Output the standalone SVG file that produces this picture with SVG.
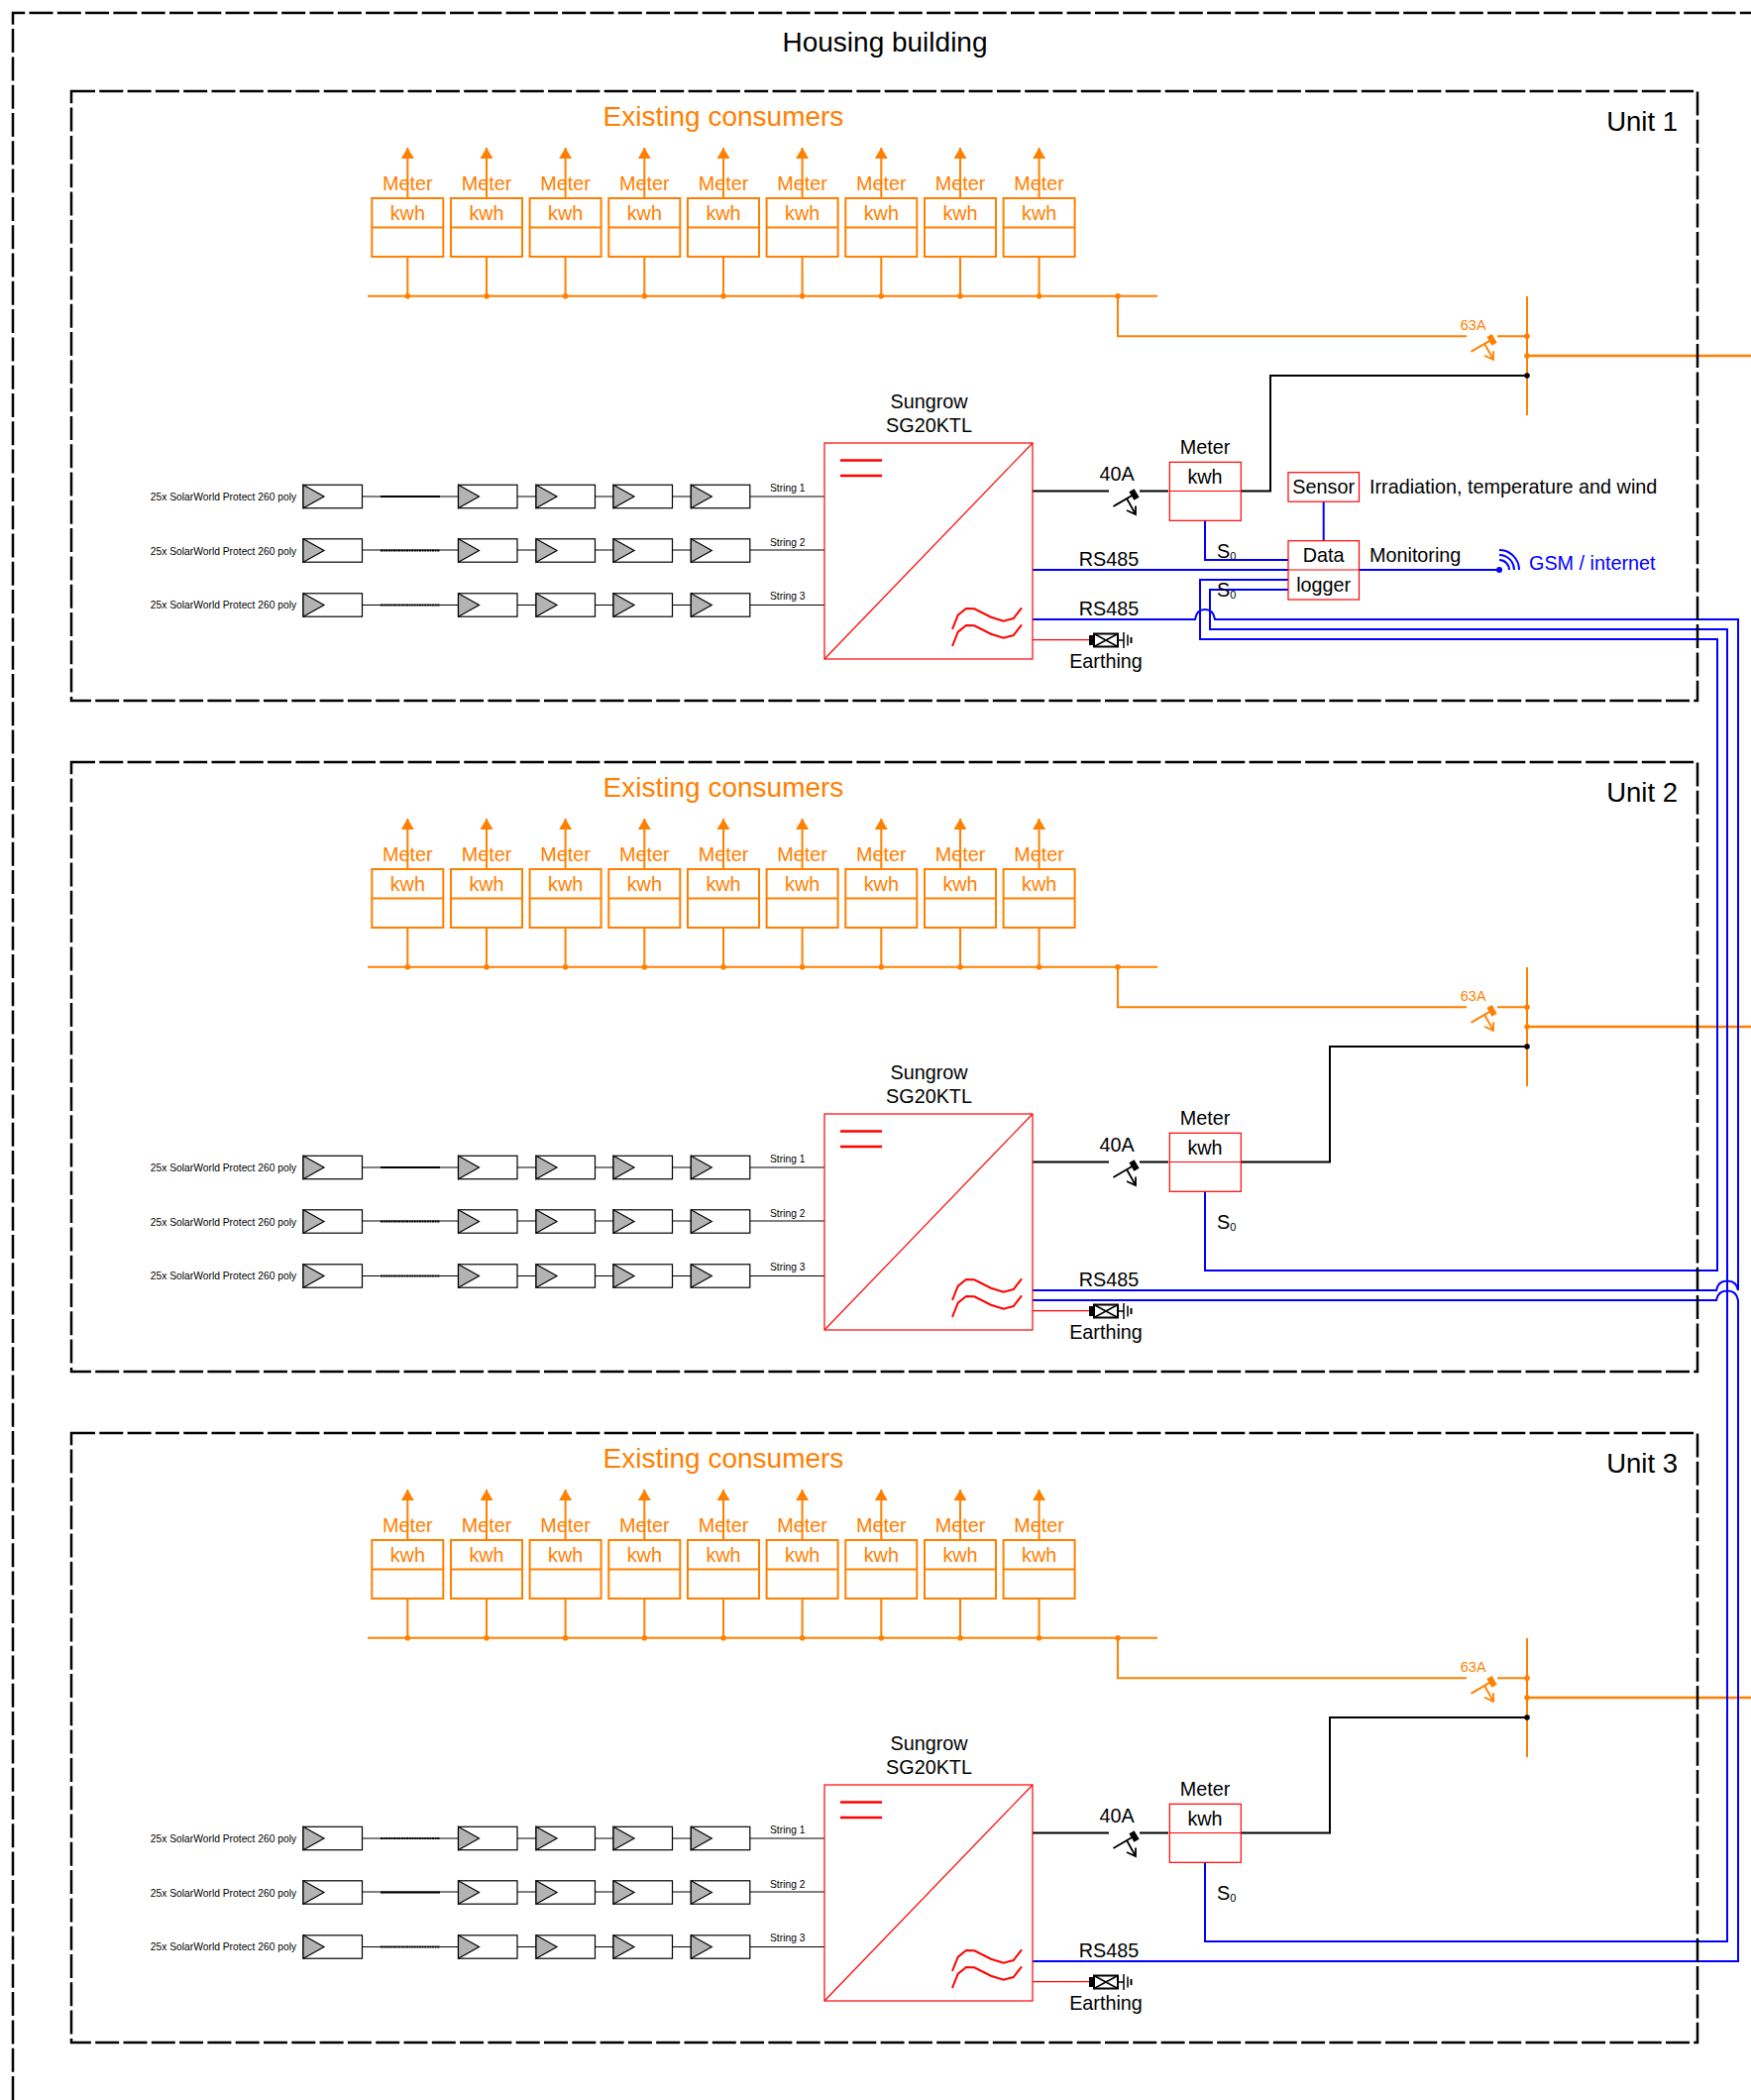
<svg xmlns="http://www.w3.org/2000/svg" width="1767" height="2119" viewBox="0 0 1767 2119">
<style>
text{font-family:"Liberation Sans",Arial,sans-serif;fill:#000;font-size:19.800px}
.c{text-anchor:middle}
.o{fill:#ff8000}
.b{fill:#0000ff}
.big{font-size:28px}
.un{font-size:27.500px;text-anchor:end}
.sm{font-size:10.300px}
.a63{font-size:14.500px;fill:#ff8000;text-anchor:middle}
.sub{font-size:11px}
.dash{fill:none;stroke:#000;stroke-width:2.500;stroke-dasharray:24 4.300}
.lo{fill:none;stroke:#ff8000;stroke-width:2}
.lk{fill:none;stroke:#000;stroke-width:2}
.lb{fill:none;stroke:#0000ff;stroke-width:2}
.lr{fill:none;stroke:#ff0000;stroke-width:1.200}
.w1{fill:none;stroke:#000;stroke-width:1}
.dot{fill:none;stroke:#000;stroke-width:2;stroke-dasharray:2 .6}
.sol{fill:none;stroke:#000;stroke-width:2}
.box{fill:#fff;stroke:#ff0000;stroke-width:1.200}
.open{fill:none;stroke:#ff0000;stroke-width:1.200}
</style>
<defs>
<g id="mb">
<rect x="-36" y="0" width="72" height="59" fill="#fff" stroke="#ff8000" stroke-width="2"/>
<path d="M-36 29.500H36" stroke="#ff8000" stroke-width="2"/>
</g>
<g id="mod">
<rect x="0" y="-11.700" width="59.500" height="23.400" fill="#fff" stroke="#000" stroke-width="1.200"/>
<path d="M0 -11.700L21 0L0 11.700Z" fill="#b3b3b3" stroke="#000" stroke-width="1.200"/>
</g>
<g id="strip">
<use href="#mod" x="306"/><use href="#mod" x="462.500"/><use href="#mod" x="541"/><use href="#mod" x="619"/><use href="#mod" x="697.300"/>
</g>
<g id="wires">
<path class="w1" d="M365.500 0H462.500M522 0H541M600.500 0H619M678.500 0H697.300M756.800 0H832"/>
</g>
<g id="sw" fill="none" stroke="currentColor" stroke-width="2">
<path d="M4.500 15.500L25 3.500M31 0H60"/>
<rect x="-3" y="-5" width="6" height="10" transform="translate(25.500 3.500) rotate(-30)" fill="currentColor" stroke="none"/>
<path d="M18 7.500L27 23.500M18 19.500L27 23.500L27 15" stroke-width="1.800"/>
</g>
<g id="earth">
<rect x="1099" y="641" width="4.500" height="10" fill="#000"/>
<rect x="1104" y="639.500" width="24" height="13" fill="#fff" stroke="#000" stroke-width="2"/>
<path d="M1104 639.500L1128 652.500M1104 652.500L1128 639.500M1128 646H1134" fill="none" stroke="#000" stroke-width="1.500"/>
<path d="M1134 638V654M1138 640.500V651.500" fill="none" stroke="#000" stroke-width="1.500"/>
<path d="M1141.500 643V649" fill="none" stroke="#000" stroke-width="2"/>
</g>
<g id="inv">
<rect x="832" y="447" width="210" height="218" class="box"/>
<path d="M832 665L1042 447" class="lr"/>
<path d="M848 464.500H890M848 480H890" fill="none" stroke="#ff0000" stroke-width="2.500"/>
<path d="M961 635L966.700 620.700L975 614L983.300 614.300L1000 622.700L1012.700 626.700L1022.700 624L1031 613.300M961 652L966.700 637.700L975 631L983.300 631.300L1000 639.700L1012.700 643.700L1022.700 641L1031 630.300" fill="none" stroke="#ff0000" stroke-width="2"/>
</g>
<g id="obus">
<path class="lo" d="M411.300 149V200M491 149V200M570.600 149V200M650.300 149V200M730 149V200M809.600 149V200M889.300 149V200M969 149V200M1048.600 149V200"/>
<path class="lo" d="M411.300 259V298.700M491 259V298.700M570.600 259V298.700M650.300 259V298.700M730 259V298.700M809.600 259V298.700M889.300 259V298.700M969 259V298.700M1048.600 259V298.700M371 298.700H1168M1128 298.700V339.300H1480M1541 299V419"/>
<path d="M1541 359H1767" fill="none" stroke="#ff8000" stroke-width="2.500"/>
<g fill="#ff8000"><path d="M411.300 149l-6.500 11h13zM491 149l-6.500 11h13zM570.600 149l-6.500 11h13zM650.300 149l-6.500 11h13zM730 149l-6.500 11h13zM809.600 149l-6.500 11h13zM889.300 149l-6.500 11h13zM969 149l-6.500 11h13zM1048.600 149l-6.500 11h13z"/>
<circle cx="411.300" cy="298.700" r="2.800"/><circle cx="491" cy="298.700" r="2.800"/><circle cx="570.600" cy="298.700" r="2.800"/><circle cx="650.300" cy="298.700" r="2.800"/><circle cx="730" cy="298.700" r="2.800"/><circle cx="809.600" cy="298.700" r="2.800"/><circle cx="889.300" cy="298.700" r="2.800"/><circle cx="969" cy="298.700" r="2.800"/><circle cx="1048.600" cy="298.700" r="2.800"/><circle cx="1128" cy="298.700" r="2.800"/><circle cx="1541" cy="339.300" r="2.800"/><circle cx="1541" cy="359" r="2.800"/></g>
<use href="#sw" x="1480" y="339.300" color="#ff8000"/>
</g>
</defs>
<rect width="1767" height="2119" fill="#fff"/>
<g id="building">
<path class="dash" d="M13 2119V13H1767"/>
<text class="big c" x="893" y="52">Housing building</text>
</g>

<g id="connectors">
<use id="orange-1" href="#obus"/>
<use id="orange-2" href="#obus" y="677"/>
<use id="orange-3" href="#obus" y="1354"/>

<g id="strings">
<use href="#wires" y="501"/><use href="#wires" y="555"/><use href="#wires" y="610.500"/>
<path class="sol" d="M384 501H444"/><path class="dot" d="M384 555.500H444"/><path class="dot" d="M384 610.500H444"/>
<use href="#wires" y="1178"/><use href="#wires" y="1232"/><use href="#wires" y="1287.500"/>
<path class="sol" d="M384 1178H444"/><path class="dot" d="M384 1232.500H444"/><path class="dot" d="M384 1287.500H444"/>
<use href="#wires" y="1855"/><use href="#wires" y="1909"/><use href="#wires" y="1964.500"/>
<path class="dot" d="M384 1855H444"/><path class="sol" d="M384 1909.500H444"/><path class="dot" d="M384 1964.500H444"/>
</g>

<g id="black-lines">
<path class="lk" d="M1042 495.500H1119M1252 495.500H1282V379H1541"/>
<path class="lk" d="M1042 1172.500H1119M1252 1172.500H1342V1056H1541"/>
<path class="lk" d="M1042 1849.500H1119M1252 1849.500H1342V1733H1541"/>
<circle cx="1541" cy="379" r="2.800"/><circle cx="1541" cy="1056" r="2.800"/><circle cx="1541" cy="1733" r="2.800"/>
<use href="#sw" x="1119" y="495.500" color="#000"/>
<use href="#sw" x="1119" y="1172.500" color="#000"/>
<use href="#sw" x="1119" y="1849.500" color="#000"/>
</g>

<g id="earth-lines">
<path class="lr" d="M1042 645.700H1100M1042 1322.700H1100M1042 1999.700H1100"/>
</g>

<g id="blue-lines">
<path class="lb" d="M1335.700 506V546M1216 525V565H1300M1042 575H1300M1371.500 575H1513"/>
<circle cx="1513" cy="575" r="3" fill="#0000ff"/>
<path class="lb" d="M1300 585H1211V645H1733V1282H1216V1202"/>
<path class="lb" d="M1300 595H1221V635H1743V1959H1216V1879"/>
<path class="lb" d="M1042 625H1206C1207 619 1210 615 1216 615S1225 619 1226 625H1754V1302C1753 1296 1749 1292.500 1743 1292.500S1733 1296 1732 1302H1042"/>
<path class="lb" d="M1042 1312H1732C1733 1306 1737 1302.500 1743 1302.500S1753 1306 1754 1312V1979H1042"/>
<path class="lb" d="M1513 555A20 20 0 0 1 1533 575M1513 560A15 15 0 0 1 1528 575M1513 565A10 10 0 0 1 1523 575"/>
</g>
</g>

<g id="unit1">
<rect x="72" y="92" width="1641" height="615" class="dash"/>
<text class="un" x="1693" y="132">Unit 1</text>
<text class="big c o" x="730" y="127">Existing consumers</text>
<g id="u1-meters">
<use href="#mb" x="411.300" y="200"/><use href="#mb" x="491" y="200"/><use href="#mb" x="570.600" y="200"/><use href="#mb" x="650.300" y="200"/><use href="#mb" x="730" y="200"/><use href="#mb" x="809.600" y="200"/><use href="#mb" x="889.300" y="200"/><use href="#mb" x="969" y="200"/><use href="#mb" x="1048.600" y="200"/>
<text class="c o" x="411.300" y="192">Meter</text><text class="c o" x="491" y="192">Meter</text><text class="c o" x="570.600" y="192">Meter</text><text class="c o" x="650.300" y="192">Meter</text><text class="c o" x="730" y="192">Meter</text><text class="c o" x="809.600" y="192">Meter</text><text class="c o" x="889.300" y="192">Meter</text><text class="c o" x="969" y="192">Meter</text><text class="c o" x="1048.600" y="192">Meter</text>
<text class="c o" x="411.300" y="221.700">kwh</text><text class="c o" x="491" y="221.700">kwh</text><text class="c o" x="570.600" y="221.700">kwh</text><text class="c o" x="650.300" y="221.700">kwh</text><text class="c o" x="730" y="221.700">kwh</text><text class="c o" x="809.600" y="221.700">kwh</text><text class="c o" x="889.300" y="221.700">kwh</text><text class="c o" x="969" y="221.700">kwh</text><text class="c o" x="1048.600" y="221.700">kwh</text>
</g>
<text class="a63" x="1486.700" y="332.700">63A</text>
<g id="u1-strings">
<use href="#strip" y="501"/><use href="#strip" y="555.500"/><use href="#strip" y="610.500"/>
<text class="sm" x="151.700" y="505">25x SolarWorld Protect 260 poly</text><text class="sm" x="151.700" y="559.500">25x SolarWorld Protect 260 poly</text><text class="sm" x="151.700" y="614">25x SolarWorld Protect 260 poly</text>
<text class="sm" x="777" y="496">String 1</text><text class="sm" x="777" y="551">String 2</text><text class="sm" x="777" y="605">String 3</text>
</g>
<g id="u1-inverter"><use href="#inv"/><text class="c" x="937.500" y="412">Sungrow</text><text class="c" x="937.500" y="436">SG20KTL</text></g>
<text class="c" x="1127" y="485">40A</text>
<g id="u1-meter"><rect x="1180.300" y="466.300" width="72" height="59" class="open"/><path class="lr" d="M1180.300 495.500H1252.300"/><text class="c" x="1216" y="458">Meter</text><text class="c" x="1216" y="487.700">kwh</text></g>
<g id="u1-sensor"><rect x="1300" y="476.700" width="71.500" height="29.500" class="box"/><text class="c" x="1335.700" y="498">Sensor</text></g>
<text x="1382" y="498">Irradiation, temperature and wind</text>
<g id="u1-logger"><rect x="1300" y="545.700" width="71.500" height="59.300" class="open"/><path class="lr" d="M1300 575H1371.500"/><text class="c" x="1335.700" y="567">Data</text><text class="c" x="1335.700" y="597">logger</text></g>
<text x="1382" y="567">Monitoring</text>
<text class="b" x="1543" y="575">GSM / internet</text>
<text class="c" x="1119" y="570.700">RS485</text><text class="c" x="1119" y="620.700">RS485</text>
<text x="1228" y="562.700">S<tspan class="sub" dy="2">0</tspan></text><text x="1228" y="602">S<tspan class="sub" dy="2">0</tspan></text>
<use href="#earth"/>
<text class="c" x="1116" y="674">Earthing</text>
</g>

<g id="unit2" transform="translate(0,677)">
<rect x="72" y="92" width="1641" height="615" class="dash"/>
<text class="un" x="1693" y="132">Unit 2</text>
<text class="big c o" x="730" y="127">Existing consumers</text>
<g id="u2-meters">
<use href="#mb" x="411.300" y="200"/><use href="#mb" x="491" y="200"/><use href="#mb" x="570.600" y="200"/><use href="#mb" x="650.300" y="200"/><use href="#mb" x="730" y="200"/><use href="#mb" x="809.600" y="200"/><use href="#mb" x="889.300" y="200"/><use href="#mb" x="969" y="200"/><use href="#mb" x="1048.600" y="200"/>
<text class="c o" x="411.300" y="192">Meter</text><text class="c o" x="491" y="192">Meter</text><text class="c o" x="570.600" y="192">Meter</text><text class="c o" x="650.300" y="192">Meter</text><text class="c o" x="730" y="192">Meter</text><text class="c o" x="809.600" y="192">Meter</text><text class="c o" x="889.300" y="192">Meter</text><text class="c o" x="969" y="192">Meter</text><text class="c o" x="1048.600" y="192">Meter</text>
<text class="c o" x="411.300" y="221.700">kwh</text><text class="c o" x="491" y="221.700">kwh</text><text class="c o" x="570.600" y="221.700">kwh</text><text class="c o" x="650.300" y="221.700">kwh</text><text class="c o" x="730" y="221.700">kwh</text><text class="c o" x="809.600" y="221.700">kwh</text><text class="c o" x="889.300" y="221.700">kwh</text><text class="c o" x="969" y="221.700">kwh</text><text class="c o" x="1048.600" y="221.700">kwh</text>
</g>
<text class="a63" x="1486.700" y="332.700">63A</text>
<g id="u2-strings">
<use href="#strip" y="501"/><use href="#strip" y="555.500"/><use href="#strip" y="610.500"/>
<text class="sm" x="151.700" y="505">25x SolarWorld Protect 260 poly</text><text class="sm" x="151.700" y="559.500">25x SolarWorld Protect 260 poly</text><text class="sm" x="151.700" y="614">25x SolarWorld Protect 260 poly</text>
<text class="sm" x="777" y="496">String 1</text><text class="sm" x="777" y="551">String 2</text><text class="sm" x="777" y="605">String 3</text>
</g>
<g id="u2-inverter"><use href="#inv"/><text class="c" x="937.500" y="412">Sungrow</text><text class="c" x="937.500" y="436">SG20KTL</text></g>
<text class="c" x="1127" y="485">40A</text>
<g id="u2-meter"><rect x="1180.300" y="466.300" width="72" height="59" class="open"/><path class="lr" d="M1180.300 495.500H1252.300"/><text class="c" x="1216" y="458">Meter</text><text class="c" x="1216" y="487.700">kwh</text></g>
<text class="c" x="1119" y="620.700">RS485</text>
<text x="1228" y="562.700">S<tspan class="sub" dy="2">0</tspan></text>
<use href="#earth"/>
<text class="c" x="1116" y="674">Earthing</text>
</g>

<g id="unit3" transform="translate(0,1354)">
<rect x="72" y="92" width="1641" height="615" class="dash"/>
<text class="un" x="1693" y="132">Unit 3</text>
<text class="big c o" x="730" y="127">Existing consumers</text>
<g id="u3-meters">
<use href="#mb" x="411.300" y="200"/><use href="#mb" x="491" y="200"/><use href="#mb" x="570.600" y="200"/><use href="#mb" x="650.300" y="200"/><use href="#mb" x="730" y="200"/><use href="#mb" x="809.600" y="200"/><use href="#mb" x="889.300" y="200"/><use href="#mb" x="969" y="200"/><use href="#mb" x="1048.600" y="200"/>
<text class="c o" x="411.300" y="192">Meter</text><text class="c o" x="491" y="192">Meter</text><text class="c o" x="570.600" y="192">Meter</text><text class="c o" x="650.300" y="192">Meter</text><text class="c o" x="730" y="192">Meter</text><text class="c o" x="809.600" y="192">Meter</text><text class="c o" x="889.300" y="192">Meter</text><text class="c o" x="969" y="192">Meter</text><text class="c o" x="1048.600" y="192">Meter</text>
<text class="c o" x="411.300" y="221.700">kwh</text><text class="c o" x="491" y="221.700">kwh</text><text class="c o" x="570.600" y="221.700">kwh</text><text class="c o" x="650.300" y="221.700">kwh</text><text class="c o" x="730" y="221.700">kwh</text><text class="c o" x="809.600" y="221.700">kwh</text><text class="c o" x="889.300" y="221.700">kwh</text><text class="c o" x="969" y="221.700">kwh</text><text class="c o" x="1048.600" y="221.700">kwh</text>
</g>
<text class="a63" x="1486.700" y="332.700">63A</text>
<g id="u3-strings">
<use href="#strip" y="501"/><use href="#strip" y="555.500"/><use href="#strip" y="610.500"/>
<text class="sm" x="151.700" y="505">25x SolarWorld Protect 260 poly</text><text class="sm" x="151.700" y="559.500">25x SolarWorld Protect 260 poly</text><text class="sm" x="151.700" y="614">25x SolarWorld Protect 260 poly</text>
<text class="sm" x="777" y="496">String 1</text><text class="sm" x="777" y="551">String 2</text><text class="sm" x="777" y="605">String 3</text>
</g>
<g id="u3-inverter"><use href="#inv"/><text class="c" x="937.500" y="412">Sungrow</text><text class="c" x="937.500" y="436">SG20KTL</text></g>
<text class="c" x="1127" y="485">40A</text>
<g id="u3-meter"><rect x="1180.300" y="466.300" width="72" height="59" class="open"/><path class="lr" d="M1180.300 495.500H1252.300"/><text class="c" x="1216" y="458">Meter</text><text class="c" x="1216" y="487.700">kwh</text></g>
<text class="c" x="1119" y="620.700">RS485</text>
<text x="1228" y="562.700">S<tspan class="sub" dy="2">0</tspan></text>
<use href="#earth"/>
<text class="c" x="1116" y="674">Earthing</text>
</g>
</svg>
